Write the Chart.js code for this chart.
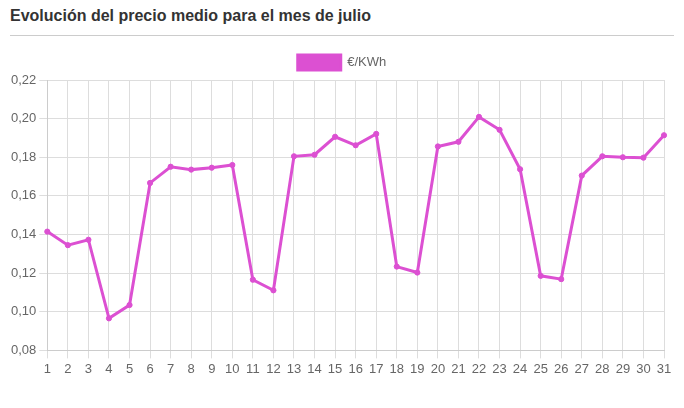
<!DOCTYPE html>
<html><head><meta charset="utf-8">
<script src="https://cdn.jsdelivr.net/npm/chart.js@4.4.0/dist/chart.umd.min.js"></script>
<style>
html,body{margin:0;padding:0;background:#fff;width:684px;height:408px;overflow:hidden;font-family:"Liberation Sans",Arial,sans-serif;}
#title{position:absolute;left:10px;top:7px;font-size:16px;font-weight:bold;color:#333;}
#rule{position:absolute;left:10px;top:35px;width:664px;height:0;border-top:1px solid #ccc;}
#wrap{position:absolute;left:0;top:45px;width:684px;height:363px;}
</style></head>
<body>
<div id="title">Evolución del precio medio para el mes de julio</div>
<div id="rule"></div>
<div id="wrap"><canvas id="c"></canvas></div>
<script>
const days = ["1","2","3","4","5","6","7","8","9","10","11","12","13","14","15","16","17","18","19","20","21","22","23","24","25","26","27","28","29","30","31"];
const precio = [0.1415,0.1345,0.1373,0.0966,0.1035,0.1667,0.1751,0.1736,0.1746,0.1760,0.1166,0.1111,0.1805,0.1813,0.1906,0.1862,0.1921,0.1234,0.1203,0.1856,0.1880,0.2009,0.1942,0.1738,0.1186,0.1169,0.1705,0.1805,0.1800,0.1798,0.1914];
const seriesName = "€/KWh";
const color = "#dc50d2";
Chart.defaults.font.family = '"Liberation Sans", Arial, sans-serif';
Chart.defaults.font.size = 13;
Chart.defaults.color = "#666";
new Chart(document.getElementById("c"), {
  type: "line",
  data: { labels: days, datasets: [{
    label: seriesName, data: precio, borderColor: color, backgroundColor: color,
    borderWidth: 3, pointRadius: 2.6, pointBorderWidth: 1, pointBackgroundColor: color, pointBorderColor: color,
    fill: false, tension: 0, yAxisID: "y"
  }]},
  options: {
    responsive: true, maintainAspectRatio: false, animation: false,
    layout: { padding: { left: 8, right: 8, top: 0, bottom: 28 } },
    plugins: {
      legend: { labels: { boxWidth: 43, boxHeight: 15, color: "#666", font: { size: 13 } } },
      tooltip: { enabled: false }
    },
    scales: {
      x: { grid: { color: "#ddd", tickLength: 8 }, border: { color: "#ccc" },
           ticks: { color: "#666", font: { size: 13 }, maxRotation: 0, autoSkip: false } },
      y: { min: 0.08, max: 0.22, grid: { color: "#ddd", tickLength: 8 }, border: { color: "#ccc" },
           ticks: { stepSize: 0.02, color: "#666", font: { size: 13 },
             callback: v => v.toFixed(2).replace(".", ",") } },
      yPad: { position: "right", display: true, grid: { display: false, drawTicks: false }, border: { display: false },
           ticks: { display: false }, afterFit: s => { s.width = 12; } }
    }
  }
});
</script>
</body></html>
